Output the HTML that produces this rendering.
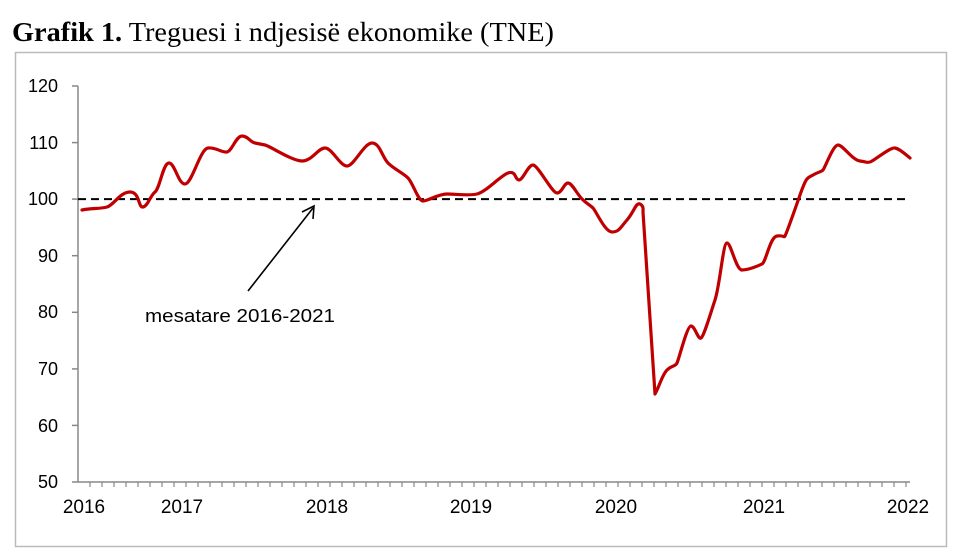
<!DOCTYPE html>
<html><head><meta charset="utf-8"><style>
body{margin:0;background:#fff;width:958px;height:550px;overflow:hidden}
</style></head><body>
<svg width="958" height="550" xmlns="http://www.w3.org/2000/svg">
<text x="12" y="41" font-family="Liberation Serif, serif" font-size="27" fill="#000" textLength="542" lengthAdjust="spacingAndGlyphs"><tspan font-weight="bold">Grafik 1.</tspan> Treguesi i ndjesisë ekonomike (TNE)</text>
<rect x="15.5" y="52.5" width="931" height="494" fill="none" stroke="#bbb" stroke-width="1.5"/>
<g stroke="#888" stroke-width="1.5">
<line x1="78" y1="86" x2="78" y2="482"/>
<line x1="78" y1="482" x2="910" y2="482"/>
<line x1="72" y1="86" x2="78" y2="86"/><line x1="72" y1="142.6" x2="78" y2="142.6"/><line x1="72" y1="199.1" x2="78" y2="199.1"/><line x1="72" y1="255.7" x2="78" y2="255.7"/><line x1="72" y1="312.3" x2="78" y2="312.3"/><line x1="72" y1="368.9" x2="78" y2="368.9"/><line x1="72" y1="425.4" x2="78" y2="425.4"/><line x1="72" y1="482" x2="78" y2="482"/>
</g>
<g font-family="Liberation Sans, sans-serif" font-size="18" fill="#000" text-anchor="end">
<text x="58" y="92">120</text><text x="58" y="149">110</text><text x="58" y="205">100</text><text x="58" y="262">90</text><text x="58" y="318">80</text><text x="58" y="375">70</text><text x="58" y="432">60</text><text x="58" y="488">50</text>
</g>
<g font-family="Liberation Sans, sans-serif" font-size="19" fill="#000" text-anchor="middle">
<text x="84" y="513">2016</text><text x="182" y="513">2017</text><text x="327" y="513">2018</text><text x="471" y="513">2019</text><text x="616" y="513">2020</text><text x="764" y="513">2021</text><text x="908" y="513">2022</text>
</g>
<line x1="78" y1="199.1" x2="910" y2="199.1" stroke="#000" stroke-width="2" stroke-dasharray="8,5"/>
<path fill="none" stroke="#c00000" stroke-width="3.2" stroke-linejoin="round" stroke-linecap="round" d="M82,210 C92,208 100,209 107,207 S120,192 130,192 S138,208 143,207 S150,196 155,192 S163,163 169,163 S178,184 185,184 S200,149 208,148 S222,153 227,152 S236,136 242,136 S250,142 255,143 S260,144 265,145 S292,161 302,161 S318,148 325,148 S340,166 347,166 S364,143 372,143 S382,157 388,163 S403,173 408,178 S418,201 423,201 S438,194 447,194 S468,196 477,194 S500,176 508,173 S515,180 519,180 S528,165 533,165 S552,193 557,193 S564,183 568,183 S577,194 582,199 S590,205 593,208 S605,232 612,232 S620,228 627,220 S636,202 640,204 S643,210 643,212 L655,394 C660,385 662,375 667,370 S675,367 677,363 S687,326 691,326 S698,340 701,338 S710,315 715,300 S723,243 727,243 S736,270 742,270 S758,266 762,264 S770,237 777,236 S784,238 785,236 S793,215 800,195 S808,178 813,175 S821,172 823,170 S833,145 838,145 S852,160 860,161 S866,163 870,162 S890,147 895,148 S905,154 910,158"/>
<line x1="248" y1="291" x2="313" y2="208" stroke="#000" stroke-width="1.6"/>
<path d="M302,212 L314,206 L313,219" fill="none" stroke="#000" stroke-width="1.6"/>
<text x="145" y="322" font-family="Liberation Sans, sans-serif" font-size="18" fill="#000" textLength="190" lengthAdjust="spacingAndGlyphs">mesatare 2016-2021</text>
<g stroke="#888" stroke-width="1.2">
<line x1="90" y1="482" x2="90" y2="487"/><line x1="102" y1="482" x2="102" y2="487"/><line x1="114" y1="482" x2="114" y2="487"/><line x1="126" y1="482" x2="126" y2="487"/><line x1="138" y1="482" x2="138" y2="487"/><line x1="150" y1="482" x2="150" y2="487"/><line x1="162" y1="482" x2="162" y2="487"/><line x1="174" y1="482" x2="174" y2="487"/><line x1="186" y1="482" x2="186" y2="487"/><line x1="198" y1="482" x2="198" y2="487"/><line x1="210" y1="482" x2="210" y2="487"/><line x1="222" y1="482" x2="222" y2="487"/><line x1="234" y1="482" x2="234" y2="487"/><line x1="246" y1="482" x2="246" y2="487"/><line x1="258" y1="482" x2="258" y2="487"/><line x1="270" y1="482" x2="270" y2="487"/><line x1="282" y1="482" x2="282" y2="487"/><line x1="294" y1="482" x2="294" y2="487"/><line x1="306" y1="482" x2="306" y2="487"/><line x1="318" y1="482" x2="318" y2="487"/><line x1="330" y1="482" x2="330" y2="487"/><line x1="342" y1="482" x2="342" y2="487"/><line x1="354" y1="482" x2="354" y2="487"/><line x1="366" y1="482" x2="366" y2="487"/><line x1="378" y1="482" x2="378" y2="487"/><line x1="390" y1="482" x2="390" y2="487"/><line x1="402" y1="482" x2="402" y2="487"/><line x1="414" y1="482" x2="414" y2="487"/><line x1="426" y1="482" x2="426" y2="487"/><line x1="438" y1="482" x2="438" y2="487"/><line x1="450" y1="482" x2="450" y2="487"/><line x1="462" y1="482" x2="462" y2="487"/><line x1="474" y1="482" x2="474" y2="487"/><line x1="486" y1="482" x2="486" y2="487"/><line x1="498" y1="482" x2="498" y2="487"/><line x1="510" y1="482" x2="510" y2="487"/><line x1="522" y1="482" x2="522" y2="487"/><line x1="534" y1="482" x2="534" y2="487"/><line x1="546" y1="482" x2="546" y2="487"/><line x1="558" y1="482" x2="558" y2="487"/><line x1="570" y1="482" x2="570" y2="487"/><line x1="582" y1="482" x2="582" y2="487"/><line x1="594" y1="482" x2="594" y2="487"/><line x1="606" y1="482" x2="606" y2="487"/><line x1="618" y1="482" x2="618" y2="487"/><line x1="630" y1="482" x2="630" y2="487"/><line x1="642" y1="482" x2="642" y2="487"/><line x1="654" y1="482" x2="654" y2="487"/><line x1="666" y1="482" x2="666" y2="487"/><line x1="678" y1="482" x2="678" y2="487"/><line x1="690" y1="482" x2="690" y2="487"/><line x1="702" y1="482" x2="702" y2="487"/><line x1="714" y1="482" x2="714" y2="487"/><line x1="726" y1="482" x2="726" y2="487"/><line x1="738" y1="482" x2="738" y2="487"/><line x1="750" y1="482" x2="750" y2="487"/><line x1="762" y1="482" x2="762" y2="487"/><line x1="774" y1="482" x2="774" y2="487"/><line x1="786" y1="482" x2="786" y2="487"/><line x1="798" y1="482" x2="798" y2="487"/><line x1="810" y1="482" x2="810" y2="487"/><line x1="822" y1="482" x2="822" y2="487"/><line x1="834" y1="482" x2="834" y2="487"/><line x1="846" y1="482" x2="846" y2="487"/><line x1="858" y1="482" x2="858" y2="487"/><line x1="870" y1="482" x2="870" y2="487"/><line x1="882" y1="482" x2="882" y2="487"/><line x1="894" y1="482" x2="894" y2="487"/><line x1="906" y1="482" x2="906" y2="487"/>
</g>
</svg>
</body></html>
